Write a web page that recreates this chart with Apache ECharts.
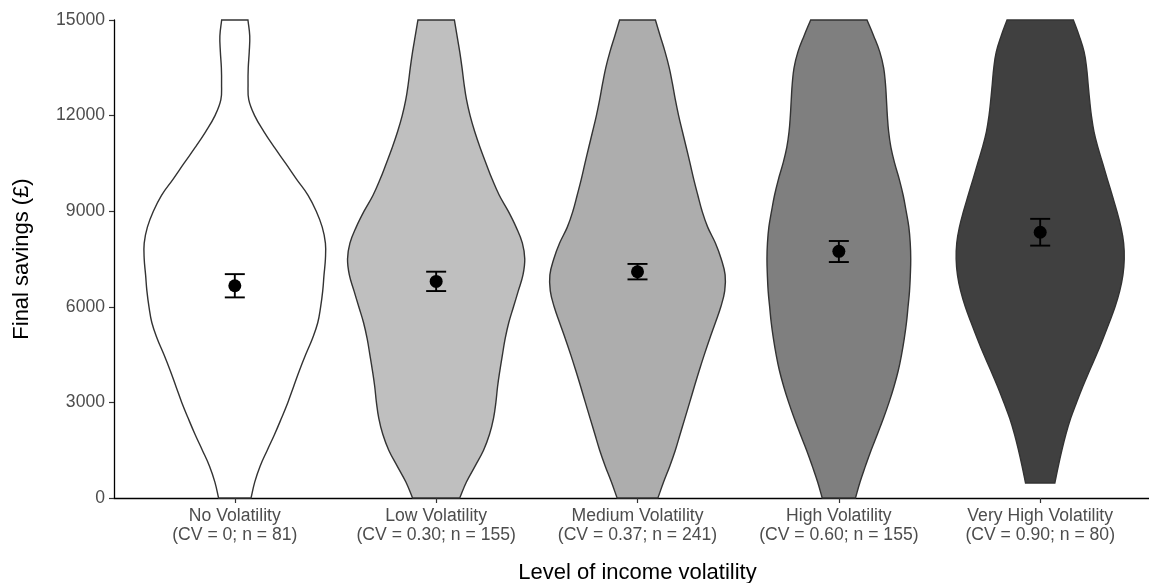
<!DOCTYPE html>
<html>
<head>
<meta charset="utf-8">
<script src="https://cdn.jsdelivr.net/npm/echarts@6/dist/echarts.min.js"></script>
<style>
  html, body { margin: 0; padding: 0; background: #ffffff; overflow: hidden; }
  #chart { width: 1149px; height: 583px; }
</style>
</head>
<body>
<div id="chart"></div>
<script>
// Groups on the x axis
const groupNames = ['No Volatility', 'Low Volatility', 'Medium Volatility', 'High Volatility', 'Very High Volatility'];
const groupStats = ['(CV = 0; n = 81)', '(CV = 0.30; n = 155)', '(CV = 0.37; n = 241)', '(CV = 0.60; n = 155)', '(CV = 0.90; n = 80)'];

// Savings levels (£) at which the violin densities are given
const savingsLevels = [0, 500, 1000, 1500, 2000, 2500, 3000, 3500, 4000, 4500, 5000,
  5500, 6000, 6500, 7000, 7500, 8000, 8500, 9000, 9500, 10000,
  10500, 11000, 11500, 12000, 12500, 13000, 13500, 14000, 14500, 15000];
// Lowest observed savings per group (violin bottom)
const violinFloor = [0, 0, 0, 0, 470];

// Kernel density (relative units) at each savings level
const densityNone = [16.3, 20, 25.4, 32.6, 40, 46.8, 53.3, 59.1, 64.9, 71.2, 77.9,
  83.3, 86.2, 88.3, 89.6, 91, 91, 87.8, 81.8, 73.6, 62.1,
  51.1, 39.8, 29.2, 19.9, 14, 13.3, 13.5, 14.5, 15, 13.2];
const densityLow = [23.7, 30.4, 39.1, 47.6, 53.6, 57.6, 60, 61.7, 64, 66.6, 69.3,
  72.9, 77.7, 82.5, 87.2, 89, 86.6, 80.3, 72.4, 63.4, 56.3,
  50.1, 44.1, 38.7, 34.1, 30.5, 28, 26, 23.7, 21, 18.3];
const densityMedium = [20.5, 26.2, 32.4, 38, 42.8, 47.6, 52.4, 57.1, 62, 67.1, 72.5,
  78.2, 83.7, 87.6, 88, 84.1, 78.2, 70.5, 64.9, 60.6, 56.5,
  52.8, 49, 45.1, 41.3, 38, 35.1, 31.9, 27.7, 22.8, 18];
const densityHigh = [16.7, 21.3, 26.7, 32.4, 38.7, 44.8, 50.4, 55.4, 59.7, 63, 65.7,
  67.9, 69.5, 71, 71.8, 72.2, 71.7, 70.3, 67.6, 64.6, 60.7,
  56.1, 52.3, 50, 48.7, 47.8, 46.8, 45, 41.1, 35, 28.3];
const densityVeryHigh = [14.7, 14.9, 18.2, 21.8, 25.8, 30.6, 36.5, 42.8, 49.6, 56.6, 63.1,
  69.3, 75.2, 79.9, 83.1, 84.4, 83.8, 81.1, 77, 72.3, 67.5,
  62.8, 58, 54, 51.4, 49.6, 48.1, 46.6, 44.1, 39.2, 33.3];

// Mean final savings with 95% confidence interval
const meanSavings = [6660, 6795, 7100, 7740, 8340];
const ciLower = [6295, 6494, 6860, 7405, 7920];
const ciUpper = [7025, 7102, 7345, 8065, 8760];

// Y axis ticks
const yTicks = [0, 3000, 6000, 9000, 12000, 15000];

const violinDensity = [densityNone, densityLow, densityMedium, densityHigh, densityVeryHigh];
const fillColors = ['#ffffff', '#bfbfbf', '#adadad', '#7f7f7f', '#404040'];
// widest violin spans 90% of a category slot
const halfWidthPerDensity = 0.45 / 91;

function renderViolin(params, api) {
  const i = params.dataIndex;
  const dens = violinDensity[i];
  const centre = api.value(0);
  const left = [];
  const right = [];
  for (let k = 0; k < savingsLevels.length; k++) {
    const y = Math.max(savingsLevels[k], violinFloor[i]);
    const hw = dens[k] * halfWidthPerDensity;
    left.push(api.coord([centre - hw, y]));
    right.push(api.coord([centre + hw, y]));
  }
  right.reverse();
  // corner points doubled so the flat ends stay square when smoothed
  const pts = [left[0]].concat(left, [left[left.length - 1], right[0]], right, [right[right.length - 1]]);
  return {
    type: 'polygon',
    shape: { points: pts, smooth: 0.4 },
    style: { fill: fillColors[i], stroke: '#333333', lineWidth: 1.4 }
  };
}

function renderErrorBar(params, api) {
  const x = api.value(0);
  const top = api.coord([x, api.value(2)]);
  const bot = api.coord([x, api.value(1)]);
  const cap = 10;
  const st = { stroke: '#000000', lineWidth: 1.9 };
  return {
    type: 'group',
    children: [
      { type: 'line', shape: { x1: top[0], y1: top[1], x2: bot[0], y2: bot[1] }, style: st },
      { type: 'line', shape: { x1: top[0] - cap, y1: top[1], x2: top[0] + cap, y2: top[1] }, style: st },
      { type: 'line', shape: { x1: bot[0] - cap, y1: bot[1], x2: bot[0] + cap, y2: bot[1] }, style: st }
    ]
  };
}

const positions = groupNames.map((_, i) => i + 1);

const chart = echarts.init(document.getElementById('chart'));
chart.setOption({
  animation: false,
  backgroundColor: '#ffffff',
  textStyle: { fontFamily: 'Liberation Sans, Arial, sans-serif' },
  grid: {
    left: 114, top: 20, width: 1047, height: 478,
    containLabel: false,
    outerBoundsMode: 'none'
  },
  xAxis: {
    type: 'value',
    min: 0.4,
    max: 5.6,
    splitLine: { show: false },
    axisLine: { show: true, lineStyle: { color: '#000000', width: 1.3 } },
    axisTick: { show: true, customValues: positions, length: 5, lineStyle: { color: '#333333', width: 1.2 } },
    axisLabel: {
      customValues: positions,
      color: '#4d4d4d',
      fontSize: 17.6,
      lineHeight: 19.5,
      margin: 8,
      formatter: (v) => {
        const i = Math.round(v) - 1;
        return groupNames[i] + '\n' + groupStats[i];
      }
    },
    name: 'Level of income volatility',
    nameLocation: 'middle',
    nameGap: 64,
    nameTextStyle: { color: '#000000', fontSize: 22 }
  },
  yAxis: {
    type: 'value',
    min: yTicks[0],
    max: yTicks[yTicks.length - 1],
    interval: 3000,
    splitLine: { show: false },
    axisLine: { show: true, lineStyle: { color: '#000000', width: 1.3 } },
    axisTick: { show: true, length: 5, lineStyle: { color: '#333333', width: 1.2 } },
    axisLabel: { color: '#4d4d4d', fontSize: 17.6, margin: 9, formatter: (v) => String(v) },
    name: 'Final savings (£)',
    nameLocation: 'middle',
    nameGap: 81,
    nameTextStyle: { color: '#000000', fontSize: 22 }
  },
  series: [
    {
      type: 'custom',
      renderItem: renderViolin,
      data: positions.map((p) => [p, 0]),
      z: 1
    },
    {
      type: 'custom',
      renderItem: renderErrorBar,
      data: positions.map((p, i) => [p, ciLower[i], ciUpper[i]]),
      z: 2
    },
    {
      type: 'scatter',
      data: positions.map((p, i) => [p, meanSavings[i]]),
      symbol: 'circle',
      symbolSize: 13,
      itemStyle: { color: '#000000', opacity: 1 },
      z: 3
    }
  ]
});
</script>
</body>
</html>
